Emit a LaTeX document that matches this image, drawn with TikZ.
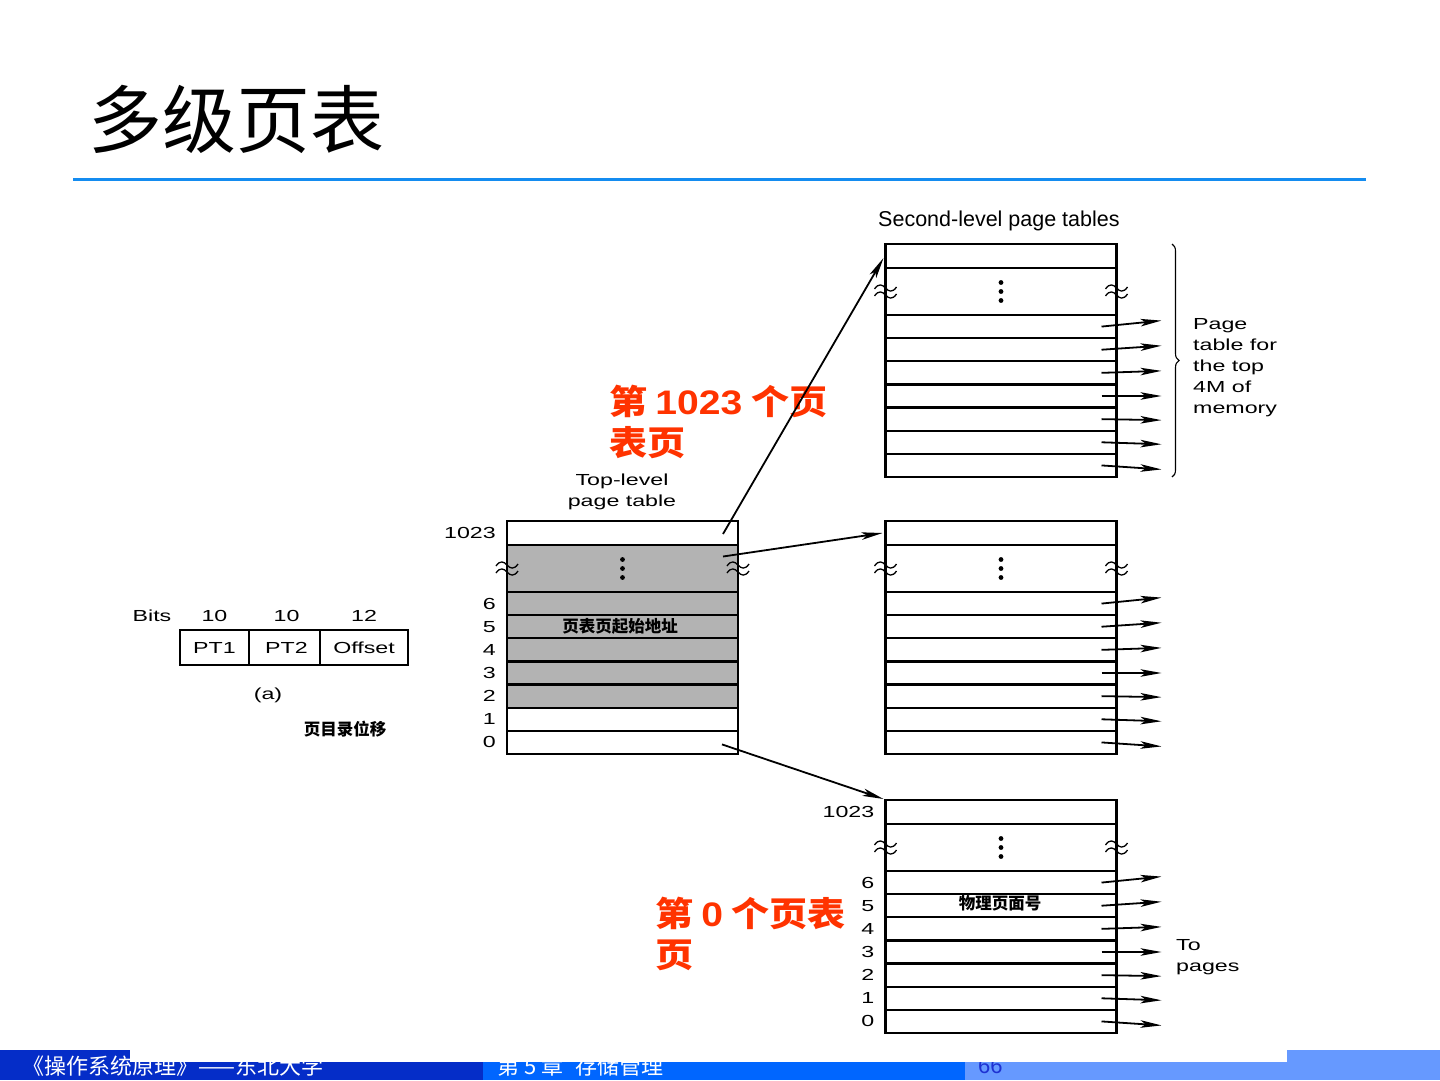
\documentclass[tikz,border=0pt]{standalone}
\usepackage{fontspec}
\setmainfont{Liberation Sans}
\newfontfamily\cjk{Noto Sans CJK SC}
\newfontfamily\cjkw{Noto Sans CJK SC}[FakeStretch=1.12]
\newfontfamily\wide{Liberation Sans}[FakeStretch=1.45]
\newfontfamily\reddig{Liberation Sans}[FakeStretch=1.15]
\usetikzlibrary{arrows.meta,calc,decorations.pathreplacing}

\definecolor{rulebl}{RGB}{20,140,240}
\definecolor{darkbl}{RGB}{5,45,200}
\definecolor{midbl}{RGB}{0,102,255}
\definecolor{lightbl}{RGB}{102,153,255}
\definecolor{redtxt}{RGB}{255,51,0}
\definecolor{shadegray}{RGB}{179,179,179}
\definecolor{numbl}{RGB}{30,50,210}

% #1 name, #2 x-left, #3 y-top, #4 fill of the middle rows
\newcommand\pgtab[4]{%
  \node[cell,anchor=north west,minimum height=24pt] (#1-top) at (#2,#3) {};
  \node[cell,anchor=north,minimum height=47pt,fill=#4] (#1-dots) at (#1-top.south) {};
  \node[cell,anchor=north,fill=#4] (#1-r6) at (#1-dots.south) {};
  \foreach \i/\p in {5/6,4/5,3/4,2/3}{\node[cell,anchor=north,fill=#4] (#1-r\i) at (#1-r\p.south) {};}
  \node[cell,anchor=north] (#1-r1) at (#1-r2.south) {};
  \node[cell,anchor=north] (#1-r0) at (#1-r1.south) {};
  \foreach \k in {-9,0,9}{\fill ($(#1-dots.center)+(0,\k)$) circle (2.4pt);}
  \pic at (#1-dots.west) {wavy};
  \pic at (#1-dots.east) {wavy};
}
\newcommand\outarrows[1]{%
  \foreach \i/\d in {6/-6,5/-4,4/-2,3/0,2/1,1/2,0/4}{%
    \coordinate (#1-o\i) at ($(#1-r\i.east)+(45,\d)$);
    \draw[arr] ($(#1-r\i.east)+(-15,0)$) -- (#1-o\i);}
}

\begin{document}
\begin{tikzpicture}[x=1pt,y=-1pt,
  cell/.style={draw,line width=2.3pt,minimum width=231pt,minimum height=23.14pt,inner sep=0pt,outer sep=0pt},
  lab/.style={font=\wide\fontsize{16}{21}\selectfont,inner sep=0pt},
  zh/.style={font=\cjk\bfseries\fontsize{16.5}{20}\selectfont,inner sep=0pt},
  redt/.style={font=\cjkw\bfseries\fontsize{34}{41}\selectfont,text=redtxt,inner sep=0pt},
  arr/.style={line width=1.8pt,-{Stealth[length=21pt,width=7.5pt,inset=5pt]}},
  bitbox/.style={draw,line width=2.2pt,minimum height=35pt,inner sep=0pt,outer sep=0pt,font=\wide\fontsize{16}{21}\selectfont},
  wavy/.pic={\foreach \o in {-3.5,3.5}{\draw[line width=1.3pt] (-11,1+\o) .. controls (-7,-5+\o) and (-3,-3.5+\o) .. (0,\o) .. controls (3,3.5+\o) and (7,5+\o) .. (11,-1+\o);}}
]
\useasboundingbox (0,0) rectangle (1440,1080);
\fill[white] (0,0) rectangle (1440,1080);

% title and rule
\node[anchor=west,font=\cjk\fontsize{74}{80}\selectfont,inner sep=0pt] (title) at (88,119) {多级页表};
\draw[rulebl,line width=3pt] (73,179) -- (1366,179);

% red annotations (under the connectors)
\node[redt,anchor=base west] (red1a) at (609,414) {第\hspace{8pt}{\reddig\bfseries 1023}\hspace{9pt}个页};
\node[redt,anchor=base west] (red1b) at (609,455) {表页};
\node[redt,anchor=base west] (red2a) at (655,926) {第\hspace{8pt}{\reddig\bfseries 0}\hspace{8pt}个页表};
\node[redt,anchor=base west] (red2b) at (655,967) {页};

% tables
\pgtab{L}{507}{521}{shadegray}
\pgtab{S1}{885.5}{244}{white}
\pgtab{S2}{885.5}{521}{white}
\pgtab{S3}{885.5}{800}{white}

% numbers
\node[lab,anchor=east] (L-n1023) at ($(L-top.west)+(-11,0)$) {1023};
\node[lab,anchor=east] (S3-n1023) at ($(S3-top.west)+(-11,0)$) {1023};
\foreach \i in {6,5,4,3,2,1,0}{%
  \node[lab,anchor=east] (L-n\i) at ($(L-r\i.west)+(-11,0)$) {\i};
  \node[lab,anchor=east] (S3-n\i) at ($(S3-r\i.west)+(-11,0)$) {\i};}

% labels
\node[font=\fontsize{21.5}{24}\selectfont,anchor=west,inner sep=0pt] (sectitle) at (878,221) {Second-level page tables};
\node[lab,align=center] (toptitle) at (622,492) {Top-level\\page table};
\node[lab,anchor=west,align=left] (pagetxt) at (1193,368) {Page\\table for\\the top\\4M of\\memory};
\node[lab,anchor=west,align=left] (totxt) at (1176,957) {To\\pages};
\node[zh] (zh1) at (620,626) {页表页起始地址};
\node[zh] (zh2) at (1000,903) {物理页面号};

% brace
\draw[line width=1.1pt,decorate,decoration={brace,amplitude=7pt}] (1172,244) -- (1172,477);

% outgoing arrows of the second-level tables
\outarrows{S1}
\outarrows{S2}
\outarrows{S3}

% connectors from the top-level table
\draw[arr] ($(L-top.east)+(-15,1)$) -- ($(S1-top.west)+(-2,2)$);
\draw[arr] ($(L-dots.east)+(-15,-12)$) -- ($(S2-top.west)+(-3,0)$);
\draw[arr] ($(L-r0.east)+(-16,2)$) -- ($(S3-top.north west)+(-2,-1)$);

% address format
\node[lab] (bits) at (152,616) {Bits};
\node[bitbox,minimum width=69pt,anchor=north west] (pt1) at (180,630) {PT1};
\node[bitbox,minimum width=71pt,anchor=north west] (pt2) at (pt1.north east) {\hspace{4pt}PT2};
\node[bitbox,minimum width=88pt,anchor=north west] (off) at (pt2.north east) {Offset};
\node[lab] (b1) at ($(pt1.north)+(0,-14)$) {10};
\node[lab] (b2) at ($(pt2.north)+(2,-14)$) {10};
\node[lab] (b3) at ($(off.north)+(0,-14)$) {12};
\node[lab] (cap) at (268,695) {(a)};
\node[zh] (zh3) at (345,729) {页目录位移};

% footer
\fill[darkbl] (0,1050) rectangle (483,1080);
\fill[midbl] (483,1050) rectangle (965,1080);
\fill[lightbl] (965,1050) rectangle (1440,1080);
\node[anchor=west,font=\cjk\fontsize{22}{24}\selectfont,text=white,inner sep=0pt] (f1) at (22,1066) {《操作系统原理》——东北大学};
\node[anchor=west,font=\cjk\fontsize{22}{24}\selectfont,text=white,inner sep=0pt] (f2) at (497,1066) {第 5 章\hspace{12pt}存储管理};
\node[anchor=west,font=\fontsize{22}{24}\selectfont,text=numbl,inner sep=0pt] (f3) at (978,1066) {66};
\fill[white] (130,1050) rectangle (1287,1062);
\end{tikzpicture}
\end{document}
